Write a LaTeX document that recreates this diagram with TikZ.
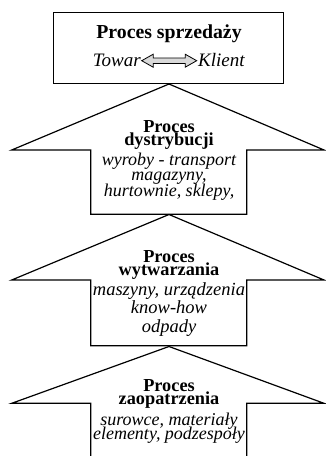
\documentclass[tikz,border=0pt]{standalone}
\usepackage{fontspec}
\setmainfont{Liberation Serif}
\setlength{\lineskiplimit}{-20pt}

\begin{document}
\begin{tikzpicture}[x=1pt,y=-1pt]
                \tikzstyle{outline}=[draw=black,line width=1.2pt,line join=miter]
                \tikzstyle{heading}=[inner sep=0pt,anchor=base,align=center]
                \tikzstyle{items}=[inner sep=0pt,anchor=base,align=center]
                \useasboundingbox (0,0) rectangle (325,456);
                \begin{scope}
                    \draw[outline] (53.3,12.3) rectangle (283.3,83.3);
                    \node[heading,font=\fontsize{19.8}{19.8}\selectfont\bfseries] (sales) at (169,38.3) {Proces sprzedaży};
                    \draw[line width=0.8pt,fill=gray!30,line join=miter]
                        (141.7,60.7) -- (153.2,54.2) -- (153.2,58) -- (185.2,58) -- (185.2,54.2) -- (196.7,60.7)
                        -- (185.2,67.2) -- (185.2,63.4) -- (153.2,63.4) -- (153.2,67.2) -- cycle;
                    \node[items,anchor=base east,font=\fontsize{19}{19}\selectfont\itshape] (goods) at (141,66.7) {Towar};
                    \node[items,anchor=base west,font=\fontsize{19}{19}\selectfont\itshape] (client) at (198,66.7) {Klient};
                \end{scope}
                \begin{scope}
                    \draw[outline] (90.7,150) -- (11.7,150) -- (169,84) -- (324,150) -- (246.7,150)
                        -- (246.7,214.3) -- (90.7,214.3) -- cycle;
                    \node[heading,font=\fontsize{18.3}{13.4}\selectfont\bfseries] (distribution) at (169,145.7) {Proces\\dystrybucji};
                    \node[items,font=\fontsize{18}{15.5}\selectfont\itshape] (distitems) at (169,196) {wyroby - transport\\magazyny,\\hurtownie, sklepy,};
                \end{scope}
                \begin{scope}
                    \draw[outline] (90.7,280) -- (11.7,280) -- (169,214.5) -- (324,280) -- (246.7,280)
                        -- (246.7,345.7) -- (90.7,345.7) -- cycle;
                    \node[heading,font=\fontsize{18.3}{12.7}\selectfont\bfseries] (production) at (169,275) {Proces\\wytwarzania};
                    \node[items,font=\fontsize{18.5}{18.5}\selectfont\itshape] (proditems) at (169,332) {maszyny, urządzenia\\know-how\\odpady};
                \end{scope}
                \begin{scope}
                    \draw[outline] (90.7,460) -- (90.7,403.3) -- (11.7,403.3) -- (169,346.5) -- (324,403.3)
                        -- (246.7,403.3) -- (246.7,460);
                    \node[heading,font=\fontsize{18.3}{12.6}\selectfont\bfseries] (supply) at (169,404.3) {Proces\\zaopatrzenia};
                    \node[items,font=\fontsize{18}{14}\selectfont\itshape] (supplyitems) at (169,439) {surowce, materiały\\elementy, podzespoły};
                \end{scope}
            \end{tikzpicture}
\end{document}
